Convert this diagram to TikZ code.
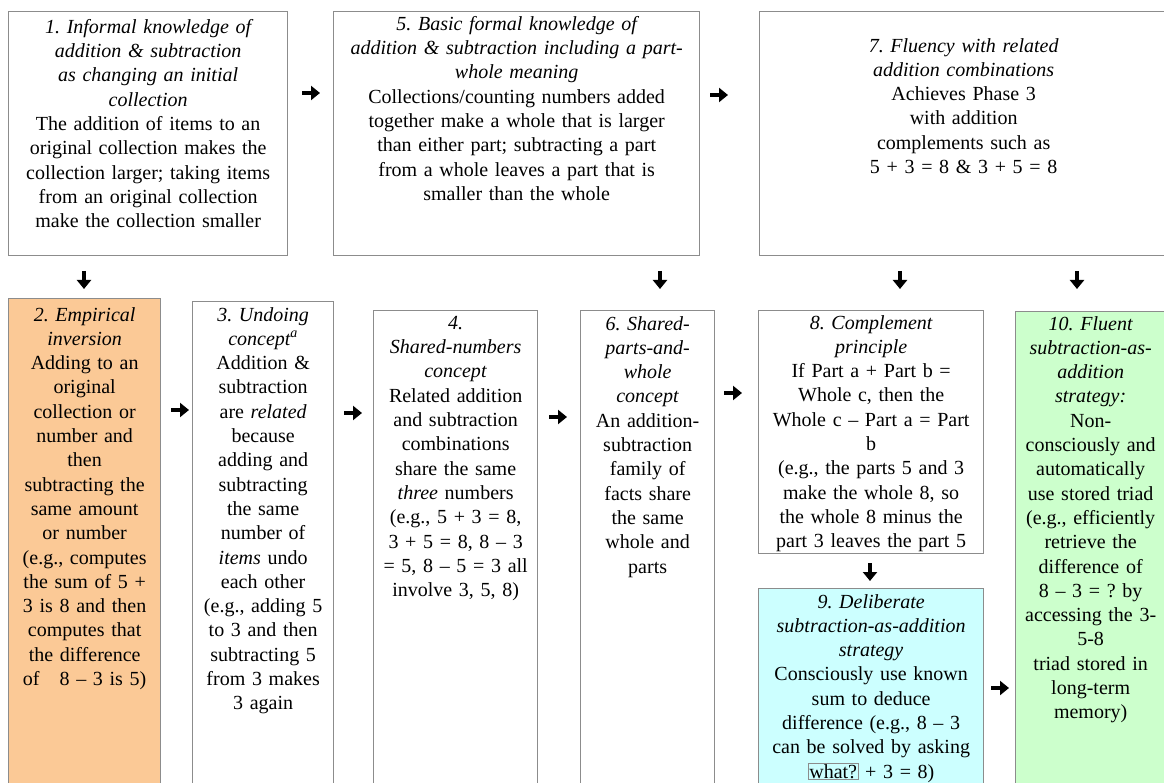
\documentclass[tikz,border=0pt]{standalone}
\usepackage{fontspec}
\setmainfont{Liberation Serif}
\usetikzlibrary{positioning, arrows.meta}
\definecolor{grayColor}{RGB}{140,140,140}
\definecolor{orangeColor}{RGB}{251,201,150}
\definecolor{cyanColor}{RGB}{204,255,255}
\definecolor{greenColor}{RGB}{204,255,204}
\frenchspacing

\begin{document}
\begin{tikzpicture}[
        x=1pt, y=-1pt,
        stage/.style={
            rectangle,
            draw=grayColor,
            line width=1.3pt,
            anchor=north west,
            inner sep=0pt
        },
        stagetext/.style={
            align=center,
            text width=400pt,
            inner sep=0pt,
            font=\fontsize{20}{24.3}\selectfont
        },
        flow/.style={
            -{Triangle[length=9pt,width=14pt]},
            line width=4pt
        }
    ]
        \useasboundingbox (0,0) rectangle (1164,783);
        \clip (0,0) rectangle (1164,783);

        % top row
        \node[stage, minimum width=279pt, minimum height=244pt] (b1) at (8,11) {};
        \node[stage, minimum width=366pt, minimum height=244pt] (b5) at (333,11) {};
        \node[stage, minimum width=408pt, minimum height=244pt] (b7) at (759,11) {};

        % bottom row
        \node[stage, fill=orangeColor, minimum width=152pt, minimum height=500pt] (b2) at (8,298) {};
        \node[stage, minimum width=141pt, minimum height=500pt] (b3) at (192,301) {};
        \node[stage, minimum width=164pt, minimum height=490pt] (b4) at (373,310) {};
        \node[stage, minimum width=134pt, minimum height=490pt] (b6) at (580,310) {};
        \node[stage, minimum width=225pt, minimum height=243pt] (b8) at (758,310) {};
        \node[stage, fill=cyanColor, minimum width=225pt, minimum height=220pt] (b9) at (758,588) {};
        \node[stage, fill=greenColor, minimum width=150pt, minimum height=490pt] (b10) at (1015,311) {};

        \node[stagetext, below=8pt of b1.north] (t1) {\textit{1. Informal knowledge of\\addition \& subtraction\\as changing an initial\\collection}\\The addition of items to an\\original collection makes the\\collection larger; taking items\\from an original collection\\make the collection smaller};
        \node[stagetext, below=5pt of b5.north] (t5) {\textit{5. Basic formal knowledge of\\addition \& subtraction including a part-\\whole meaning}\\Collections/counting numbers added\\together make a whole that is larger\\than either part; subtracting a part\\from a whole leaves a part that is\\smaller than the whole};
        \node[stagetext, below=27pt of b7.north] (t7) {\textit{7. Fluency with related\\addition combinations}\\Achieves Phase 3\\with addition\\complements such as\\5 + 3 = 8 \& 3 + 5 = 8};
        \node[stagetext, below=9pt of b2.north] (t2) {\textit{2. Empirical\\inversion}\\Adding to an\\original\\collection or\\number and\\then\\subtracting the\\same amount\\or number\\(e.g., computes\\the sum of 5 +\\3 is 8 and then\\computes that\\the difference\\of~~ 8 – 3 is 5)};
        \node[stagetext, below=6pt of b3.north] (t3) {\textit{3. Undoing\\concept\textsuperscript{a}}\\Addition \&\\subtraction\\are \textit{related}\\because\\adding and\\subtracting\\the same\\number of\\\textit{items} undo\\each other\\(e.g., adding 5\\to 3 and then\\subtracting 5\\from 3 makes\\3 again};
        \node[stagetext, below=6pt of b4.north] (t4) {\textit{4.\\Shared-numbers\\concept}\\Related addition\\and subtraction\\combinations\\share the same\\\textit{three} numbers\\(e.g., 5 + 3 = 8,\\3 + 5 = 8, 8 – 3\\= 5, 8 – 5 = 3 all\\involve 3, 5, 8)};
        \node[stagetext, below=6pt of b6.north] (t6) {\textit{6. Shared-\\parts-and-\\whole\\concept}\\An addition-\\subtraction\\family of\\facts share\\the same\\whole and\\parts};
        \node[stagetext, below=5pt of b8.north] (t8) {\textit{8. Complement\\principle}\\If Part a + Part b =\\Whole c, then the\\Whole c – Part a = Part\\b\\(e.g., the parts 5 and 3\\make the whole 8, so\\the whole 8 minus the\\part 3 leaves the part 5};
        \node[stagetext, below=6pt of b9.north] (t9) {\textit{9. Deliberate\\subtraction-as-addition\\strategy}\\Consciously use known\\sum to deduce\\difference (e.g., 8 – 3\\can be solved by asking\\\setlength{\fboxsep}{1pt}\fcolorbox{grayColor}{cyanColor}{what?} + 3 = 8)};
        \node[stagetext, below=5pt of b10.north] (t10) {\textit{10. Fluent\\subtraction-as-\\addition\\strategy:}\\Non-\\consciously and\\automatically\\use stored triad\\(e.g., efficiently\\retrieve the\\difference of\\8 – 3 = ? by\\accessing the 3-\\5-8\\triad stored in\\long-term\\memory)};

        % arrows between the stages
        \coordinate (p15) at (311,93);
        \coordinate (p57) at (719,95);
        \coordinate (p12) at (84,280);
        \coordinate (p56) at (660,280);
        \coordinate (p78) at (900,280);
        \coordinate (p710) at (1077,280);
        \coordinate (p23) at (180,410);
        \coordinate (p34) at (353,413);
        \coordinate (p46) at (558,417);
        \coordinate (p68) at (733,393);
        \coordinate (p89) at (870,572);
        \coordinate (p910) at (1000,688);

        \draw[flow] ([xshift=-9pt]p15) -- ([xshift=9pt]p15);
        \draw[flow] ([xshift=-9pt]p57) -- ([xshift=9pt]p57);
        \draw[flow] ([yshift=9pt]p12) -- ([yshift=-9pt]p12);
        \draw[flow] ([yshift=9pt]p56) -- ([yshift=-9pt]p56);
        \draw[flow] ([yshift=9pt]p78) -- ([yshift=-9pt]p78);
        \draw[flow] ([yshift=9pt]p710) -- ([yshift=-9pt]p710);
        \draw[flow] ([xshift=-9pt]p23) -- ([xshift=9pt]p23);
        \draw[flow] ([xshift=-9pt]p34) -- ([xshift=9pt]p34);
        \draw[flow] ([xshift=-9pt]p46) -- ([xshift=9pt]p46);
        \draw[flow] ([xshift=-9pt]p68) -- ([xshift=9pt]p68);
        \draw[flow] ([yshift=9pt]p89) -- ([yshift=-9pt]p89);
        \draw[flow] ([xshift=-9pt]p910) -- ([xshift=9pt]p910);

    \end{tikzpicture}
\end{document}
